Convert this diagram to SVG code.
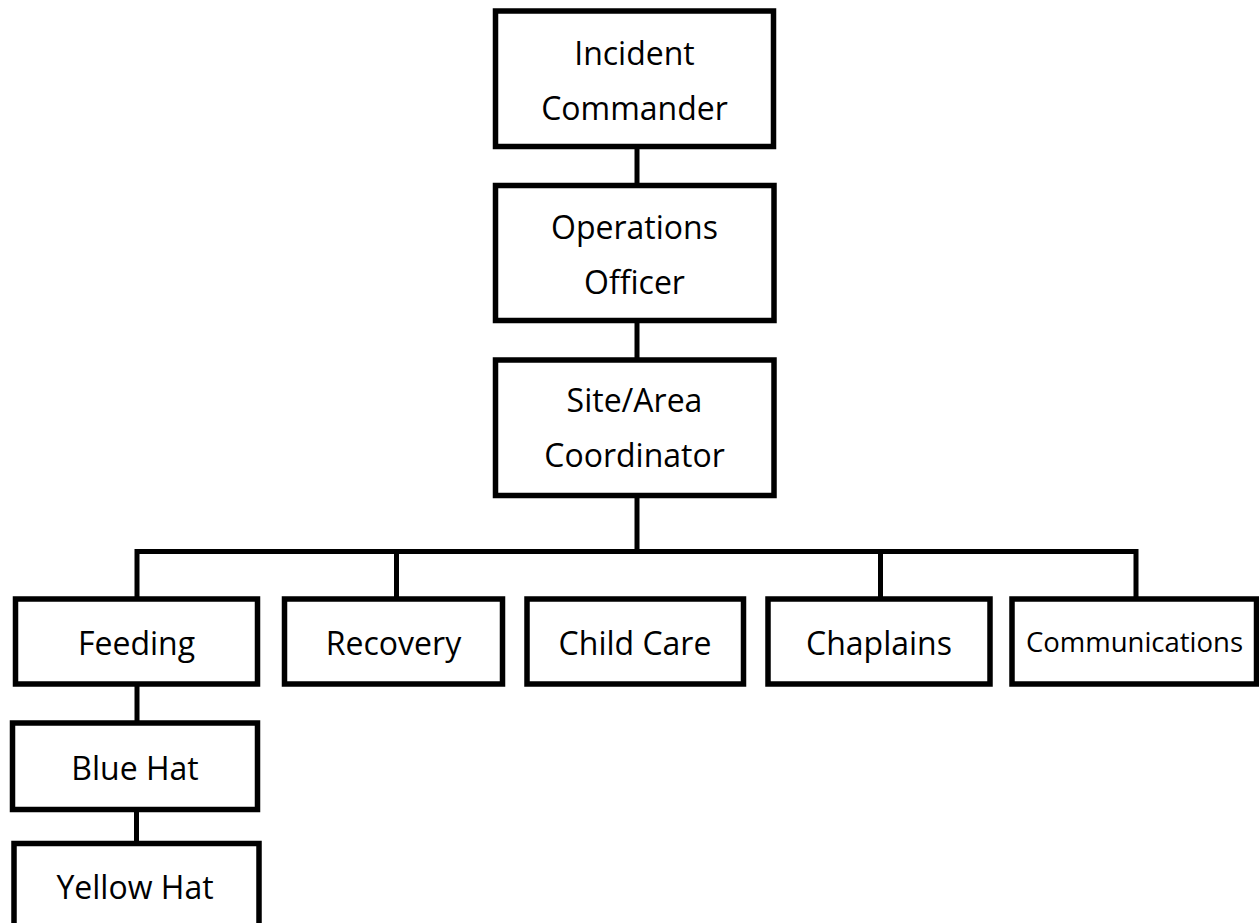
<svg xmlns="http://www.w3.org/2000/svg" width="1259" height="923" viewBox="0 0 1259 923">
<style>
.box{fill:#fff;stroke:#000;stroke-width:5.5}
.con{fill:none;stroke:#000;stroke-width:5}
text{font-family:"Open Sans","Noto Sans",sans-serif;font-size:32px;fill:#000;text-anchor:middle}
.small{font-size:27.5px}
</style>
<rect width="1259" height="923" fill="#fff"/>
<g id="connectors">
<path class="con" d="M637 146.5V185.5M637 320.5V360M637 495.5V551.5M137 599V551.5H1136V599M396.5 551.5V599M880.5 551.5V599M137 684V723M136.5 809.5V843.5"/>
</g>
<g id="incident-commander"><rect class="box" x="495.5" y="11" width="278" height="135.5"/><text x="634.5" y="65">Incident</text><text x="634.5" y="120">Commander</text></g>
<g id="operations-officer"><rect class="box" x="495.5" y="185.5" width="278.5" height="135"/><text x="634.5" y="238.5">Operations</text><text x="634.5" y="293.5">Officer</text></g>
<g id="site-area-coordinator"><rect class="box" x="495.5" y="360" width="278.5" height="135.5"/><text x="634.5" y="411.5">Site/Area</text><text x="634.5" y="466.5">Coordinator</text></g>
<g id="feeding"><rect class="box" x="15.5" y="599" width="242" height="85"/><text x="136.5" y="655">Feeding</text></g>
<g id="recovery"><rect class="box" x="284.5" y="599" width="218" height="85"/><text x="393.5" y="655">Recovery</text></g>
<g id="child-care"><rect class="box" x="527" y="599" width="216.5" height="85"/><text x="635" y="655">Child Care</text></g>
<g id="chaplains"><rect class="box" x="768" y="599" width="222" height="85"/><text x="879" y="655">Chaplains</text></g>
<g id="communications"><rect class="box" x="1012" y="599" width="244.5" height="85"/><text class="small" x="1134.5" y="651.5">Communications</text></g>
<g id="blue-hat"><rect class="box" x="12.5" y="723" width="245" height="86.5"/><text x="135" y="780">Blue Hat</text></g>
<g id="yellow-hat"><rect class="box" x="14" y="843.5" width="245" height="100"/><text x="135" y="898.5">Yellow Hat</text></g>
</svg>
